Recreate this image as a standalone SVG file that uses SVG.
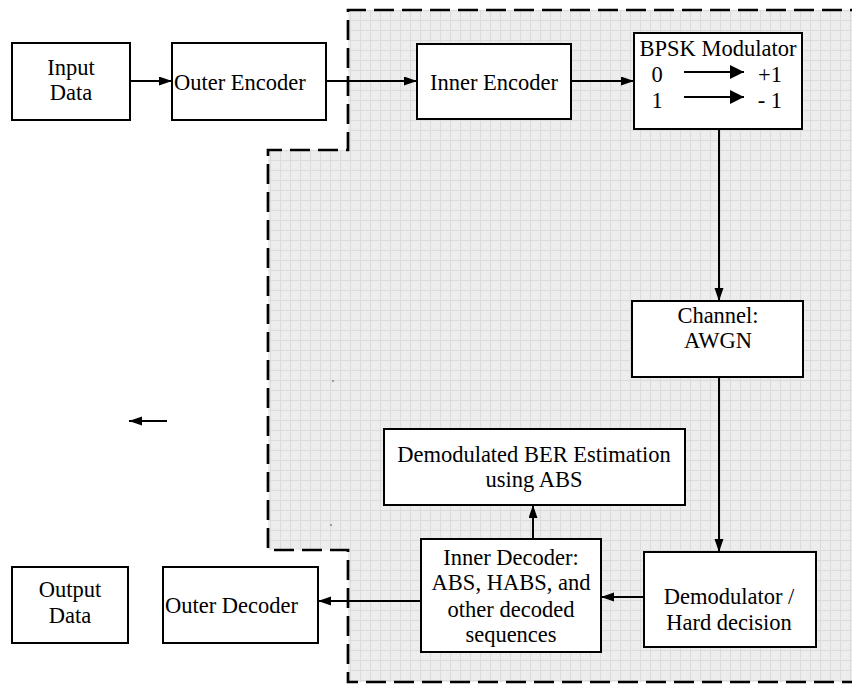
<svg xmlns="http://www.w3.org/2000/svg" width="852" height="684" viewBox="0 0 852 684" font-family="Liberation Serif, Times New Roman, serif" font-size="22.5">
<defs>
<pattern id="grid" width="10" height="10" patternUnits="userSpaceOnUse">
<rect width="10" height="10" fill="#ececec"/>
<path d="M0,0.5 H10 M0.5,0 V10" stroke="#dcdcdc" stroke-width="1" fill="none"/>
<path d="M3,5 h1 M7,5 h1 M5,3 v1 M5,7 v1" stroke="#f6f6f6" stroke-width="1"/>
</pattern>
<marker id="ah" markerUnits="userSpaceOnUse" markerWidth="14" markerHeight="10" refX="13" refY="4.5" orient="auto">
<path d="M0,0 L13,4.5 L0,9 z" fill="#000"/>
</marker>
<marker id="ahb" markerUnits="userSpaceOnUse" markerWidth="15" markerHeight="14" refX="14" refY="7" orient="auto">
<path d="M0,0 L14,7 L0,14 z" fill="#000"/>
</marker>
</defs>
<style>
.box{fill:#fff;stroke:#000;stroke-width:2}
.t{font-family:"Liberation Serif","Times New Roman",serif;font-size:22.5px;fill:#000}
.c{text-anchor:middle}
.ln{fill:none;stroke:#000;stroke-width:2;marker-end:url(#ah)}
</style>
<rect width="852" height="684" fill="#fff"/>
<g id="region">
<path d="M870,10 H348 V150 H268 V550 H348 V682 H870 Z" fill="url(#grid)" stroke="none"/>
<path d="M870,10 H348 V150 H268 V550 H348 V682 H870" fill="none" stroke="#000" stroke-width="2.7" stroke-dasharray="20 8"/>
<circle cx="333" cy="381" r="0.8" fill="#444"/>
<circle cx="331" cy="525" r="0.8" fill="#444"/>
</g>
<g id="connectors">
<path class="ln" d="M130,81 H172"/>
<path class="ln" d="M326,81 H417"/>
<path class="ln" d="M571,81 H634"/>
<path class="ln" d="M719,129 V301"/>
<path class="ln" d="M719,377 V552"/>
<path class="ln" d="M644,597 H601"/>
<path class="ln" d="M533,539 V505"/>
<path class="ln" d="M421,601 H318"/>
<path class="ln" d="M167,421 H129"/>
</g>
<g id="input-data">
<rect class="box" x="12" y="43" width="118" height="77"/>
<text class="t c" x="71" y="75">Input</text>
<text class="t c" x="71" y="100">Data</text>
</g>
<g id="outer-encoder">
<rect class="box" x="172" y="43" width="154" height="77"/>
<text class="t" x="174" y="90">Outer Encoder</text>
</g>
<g id="inner-encoder">
<rect class="box" x="417" y="44" width="154" height="75"/>
<text class="t c" x="494" y="90">Inner Encoder</text>
</g>
<g id="bpsk-modulator">
<rect class="box" x="634" y="33" width="168" height="96"/>
<text class="t c" x="718" y="56">BPSK Modulator</text>
<text class="t c" x="657" y="82">0</text>
<text class="t c" x="657" y="108">1</text>
<path d="M684,72 H744" fill="none" stroke="#000" stroke-width="2" marker-end="url(#ahb)"/>
<path d="M684,97 H744" fill="none" stroke="#000" stroke-width="2" marker-end="url(#ahb)"/>
<text class="t" x="782" y="82" text-anchor="end">+1</text>
<text class="t" x="782" y="108" text-anchor="end">- 1</text>
</g>
<g id="channel">
<rect class="box" x="632" y="301" width="171" height="76"/>
<text class="t c" x="718" y="323">Channel:</text>
<text class="t c" x="718" y="348">AWGN</text>
</g>
<g id="demodulator">
<rect class="box" x="644" y="552" width="172" height="95"/>
<text class="t c" x="729" y="604">Demodulator /</text>
<text class="t c" x="729" y="630">Hard decision</text>
</g>
<g id="ber-estimation">
<rect class="box" x="384" y="429" width="301" height="76"/>
<text class="t c" x="534" y="462">Demodulated BER Estimation</text>
<text class="t c" x="534" y="487">using ABS</text>
</g>
<g id="inner-decoder">
<rect class="box" x="421" y="539" width="180" height="113"/>
<text class="t c" x="511" y="565">Inner Decoder:</text>
<text class="t c" x="511" y="590">ABS, HABS, and</text>
<text class="t c" x="511" y="617">other decoded</text>
<text class="t c" x="511" y="642">sequences</text>
</g>
<g id="outer-decoder">
<rect class="box" x="163" y="567" width="155" height="76"/>
<text class="t" x="165" y="613">Outer Decoder</text>
</g>
<g id="output-data">
<rect class="box" x="12" y="567" width="116" height="76"/>
<text class="t c" x="70" y="597">Output</text>
<text class="t c" x="70" y="623">Data</text>
</g>
</svg>
